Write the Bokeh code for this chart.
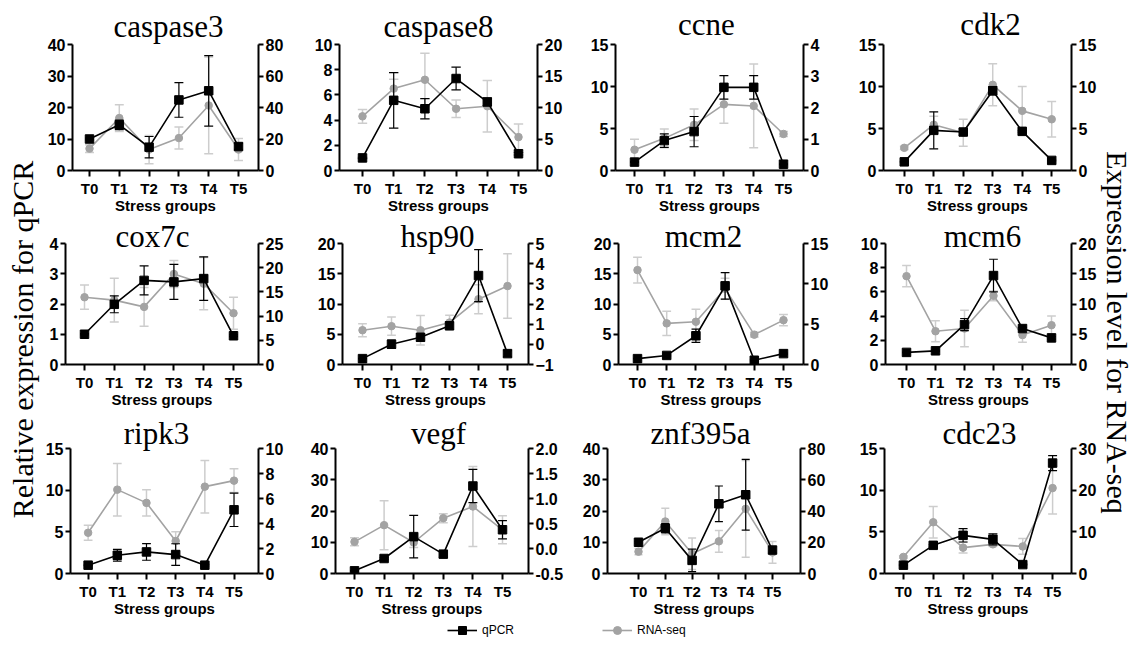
import math
from bokeh.plotting import figure
from bokeh.layouts import row, column
from bokeh.models import (Range1d, LinearAxis, FixedTicker, Title, Legend, LegendItem,
                          PrintfTickFormatter)
from bokeh.core.properties import value
from bokeh.embed import file_html
from bokeh.resources import INLINE

GROUPS = ["T0", "T1", "T2", "T3", "T4", "T5"]

CASPASE3_QPCR = [10.0, 14.5, 7.4, 22.4, 25.3, 7.6]
CASPASE3_QPCR_SD = [0.3, 1.5, 3.4, 5.5, 11.2, 1.0]
CASPASE3_RNA = [13.9, 33.3, 13.3, 20.6, 41.3, 13.3]
CASPASE3_RNA_SD = [2.5, 8.5, 9.0, 7.0, 30.7, 7.0]

CASPASE8_QPCR = [1.0, 5.57, 4.9, 7.3, 5.44, 1.33]
CASPASE8_QPCR_SD = [0.05, 2.2, 0.8, 0.9, 0.3, 0.1]
CASPASE8_RNA = [8.6, 13.0, 14.4, 9.8, 10.2, 5.3]
CASPASE8_RNA_SD = [1.1, 1.5, 4.2, 1.4, 4.1, 2.1]

CCNE_QPCR = [1.0, 3.56, 4.63, 9.9, 9.9, 0.75]
CCNE_QPCR_SD = [0.05, 0.8, 1.8, 1.4, 1.4, 0.05]
CCNE_RNA = [0.66, 1.02, 1.45, 2.1, 2.05, 1.16]
CCNE_RNA_SD = [0.33, 0.3, 0.5, 0.6, 1.33, 0.08]

CDK2_QPCR = [1.03, 4.78, 4.58, 9.5, 4.66, 1.2]
CDK2_QPCR_SD = [0.05, 2.2, 0.4, 0.5, 0.1, 0.05]
CDK2_RNA = [2.7, 5.45, 4.5, 10.2, 7.1, 6.1]
CDK2_RNA_SD = [0.2, 1.0, 1.6, 2.5, 2.9, 2.1]

COX7C_QPCR = [1.0, 1.99, 2.78, 2.73, 2.84, 0.95]
COX7C_QPCR_SD = [0.02, 0.28, 0.48, 0.58, 0.72, 0.03]
COX7C_RNA = [13.9, 13.3, 11.9, 18.7, 16.7, 10.6]
COX7C_RNA_SD = [2.5, 4.5, 4.0, 2.8, 5.4, 3.3]

HSP90_QPCR = [0.97, 3.35, 4.5, 6.4, 14.7, 1.8]
HSP90_QPCR_SD = [0.05, 0.7, 0.6, 0.6, 4.3, 0.5]
HSP90_RNA = [0.70, 0.90, 0.70, 1.08, 2.24, 2.89]
HSP90_RNA_SD = [0.32, 0.45, 0.73, 0.36, 0.72, 1.6]

MCM2_QPCR = [0.97, 1.5, 4.75, 13.0, 0.7, 1.8]
MCM2_QPCR_SD = [0.05, 0.1, 1.1, 2.2, 0.1, 0.1]
MCM2_RNA = [11.7, 5.1, 5.3, 9.4, 3.7, 5.5]
MCM2_RNA_SD = [1.6, 1.5, 1.55, 1.3, 0.3, 0.7]

MCM6_QPCR = [1.0, 1.13, 3.3, 7.35, 2.97, 2.2]
MCM6_QPCR_SD = [0.03, 0.05, 0.5, 1.35, 0.1, 0.1]
MCM6_RNA = [14.6, 5.5, 5.95, 11.35, 4.86, 6.5]
MCM6_RNA_SD = [1.75, 1.75, 3.0, 0.8, 1.2, 1.5]

RIPK3_QPCR = [1.0, 2.19, 2.59, 2.27, 1.0, 7.64]
RIPK3_QPCR_SD = [0.05, 0.7, 1.0, 1.3, 0.1, 2.0]
RIPK3_RNA = [3.26, 6.71, 5.65, 2.6, 6.95, 7.43]
RIPK3_RNA_SD = [0.6, 2.1, 1.05, 0.75, 2.1, 0.95]

VEGF_QPCR = [0.85, 4.8, 11.8, 6.2, 28.0, 14.0]
VEGF_QPCR_SD = [0.1, 0.3, 6.8, 1.0, 5.3, 2.9]
VEGF_RNA = [0.133, 0.467, 0.12, 0.607, 0.84, 0.373]
VEGF_RNA_SD = [0.08, 0.49, 0.1, 0.09, 0.8, 0.28]

ZNF395A_QPCR = [10.0, 14.5, 4.2, 22.3, 25.2, 7.5]
ZNF395A_QPCR_SD = [0.3, 1.5, 3.6, 5.7, 11.3, 1.0]
ZNF395A_RNA = [14.0, 33.3, 12.7, 20.6, 41.4, 13.5]
ZNF395A_RNA_SD = [2.0, 8.5, 10.1, 7.0, 31.0, 7.0]

CDC23_QPCR = [1.0, 3.38, 4.58, 4.1, 1.07, 13.25]
CDC23_QPCR_SD = [0.05, 0.1, 0.8, 0.66, 0.05, 0.9]
CDC23_RNA = [3.98, 12.3, 6.2, 7.0, 6.5, 20.5]
CDC23_RNA_SD = [0.3, 3.8, 1.3, 0.5, 1.9, 6.2]

# panel specs: data + axis ranges + frame placement (page pixels)
SPECS = [
    [
        dict(name="caspase3", q=CASPASE3_QPCR, qe=CASPASE3_QPCR_SD, r=CASPASE3_RNA, re=CASPASE3_RNA_SD,
             lr=(0, 40), lt=[0, 10, 20, 30, 40], rr=(0, 80), rt=[0, 20, 40, 60, 80],
             fl=72, fr=258, ft=44, fb=171, t0=89, t5=238, tx=168, so=2),
        dict(name="caspase8", q=CASPASE8_QPCR, qe=CASPASE8_QPCR_SD, r=CASPASE8_RNA, re=CASPASE8_RNA_SD,
             lr=(0, 10), lt=[0, 2, 4, 6, 8, 10], rr=(0, 20), rt=[0, 5, 10, 15, 20],
             fl=339, fr=537, ft=44, fb=170, t0=362, t5=518, tx=438, so=2),
        dict(name="ccne", q=CCNE_QPCR, qe=CCNE_QPCR_SD, r=CCNE_RNA, re=CCNE_RNA_SD,
             lr=(0, 15), lt=[0, 5, 10, 15], rr=(0, 4), rt=[0, 1, 2, 3, 4],
             fl=615, fr=803, ft=44, fb=171, t0=634, t5=783, tx=706, so=5),
        dict(name="cdk2", q=CDK2_QPCR, qe=CDK2_QPCR_SD, r=CDK2_RNA, re=CDK2_RNA_SD,
             lr=(0, 15), lt=[0, 5, 10, 15], rr=(0, 15), rt=[0, 5, 10, 15],
             fl=883, fr=1073, ft=44, fb=171, t0=904, t5=1053, tx=990, so=5),
    ],
    [
        dict(name="cox7c", q=COX7C_QPCR, qe=COX7C_QPCR_SD, r=COX7C_RNA, re=COX7C_RNA_SD,
             lr=(0, 4), lt=[0, 1, 2, 3, 4], rr=(0, 25), rt=[0, 5, 10, 15, 20, 25],
             fl=65, fr=258, ft=243, fb=367, t0=84, t5=233, tx=152, so=-21),
        dict(name="hsp90", q=HSP90_QPCR, qe=HSP90_QPCR_SD, r=HSP90_RNA, re=HSP90_RNA_SD,
             lr=(0, 20), lt=[0, 5, 10, 15, 20], rr=(-1, 5), rt=[-1, 0, 1, 2, 3, 4, 5],
             fl=342, fr=528, ft=242, fb=365, t0=362, t5=507, tx=437, so=-21),
        dict(name="mcm2", q=MCM2_QPCR, qe=MCM2_QPCR_SD, r=MCM2_RNA, re=MCM2_RNA_SD,
             lr=(0, 20), lt=[0, 5, 10, 15, 20], rr=(0, 15), rt=[0, 5, 10, 15],
             fl=618, fr=803, ft=242, fb=364, t0=637, t5=783, tx=703, so=-21),
        dict(name="mcm6", q=MCM6_QPCR, qe=MCM6_QPCR_SD, r=MCM6_RNA, re=MCM6_RNA_SD,
             lr=(0, 10), lt=[0, 2, 4, 6, 8, 10], rr=(0, 20), rt=[0, 5, 10, 15, 20],
             fl=885, fr=1071, ft=242, fb=365, t0=906, t5=1051, tx=982, so=-21),
    ],
    [
        dict(name="ripk3", q=RIPK3_QPCR, qe=RIPK3_QPCR_SD, r=RIPK3_RNA, re=RIPK3_RNA_SD,
             lr=(0, 15), lt=[0, 5, 10, 15], rr=(0, 10), rt=[0, 2, 4, 6, 8, 10],
             fl=66, fr=258, ft=448, fb=573, t0=84, t5=233, tx=152, so=-4),
        dict(name="vegf", q=VEGF_QPCR, qe=VEGF_QPCR_SD, r=VEGF_RNA, re=VEGF_RNA_SD,
             lr=(0, 40), lt=[0, 10, 20, 30, 40], rr=(-0.5, 2.0), rt=[-0.5, 0.0, 0.5, 1.0, 1.5, 2.0],
             fl=335, fr=528, ft=448, fb=573, t0=354, t5=502, tx=438, so=-4, rfmt="%.1f"),
        dict(name="znf395a", q=ZNF395A_QPCR, qe=ZNF395A_QPCR_SD, r=ZNF395A_RNA, re=ZNF395A_RNA_SD,
             lr=(0, 40), lt=[0, 10, 20, 30, 40], rr=(0, 80), rt=[0, 20, 40, 60, 80],
             fl=607, fr=800, ft=448, fb=573, t0=638, t5=772, tx=700, so=-4),
        dict(name="cdc23", q=CDC23_QPCR, qe=CDC23_QPCR_SD, r=CDC23_RNA, re=CDC23_RNA_SD,
             lr=(0, 15), lt=[0, 5, 10, 15], rr=(0, 30), rt=[0, 10, 20, 30],
             fl=884, fr=1072, ft=448, fb=573, t0=903, t5=1053, tx=979, so=-4),
    ],
]

COL_X = [42, 300, 572, 840, 1099]
ROW_Y = [0, 216, 413, 620]
PAGE_W, PAGE_H = 1142, 648

BLACK = "black"
GREY = "#a3a3a3"
GREY_ERR = "#cdcdcd"
SANS = "Liberation Sans"
SERIF = "Liberation Serif"
TITLE_SIZE = 31
# Times-compatible advance widths (per 1000 em) used to centre titles
SERIF_W = {"a": 444, "c": 444, "d": 500, "e": 444, "f": 333, "g": 500, "h": 500, "i": 278,
           "k": 500, "m": 778, "n": 500, "o": 500, "p": 500, "r": 333, "s": 389, "v": 500,
           "x": 500, "z": 444}


def text_width(t, size):
    return sum(SERIF_W.get(ch, 500) for ch in t) * size / 1000.0


def style_axis(ax, size="16px"):
    ax.axis_line_width = 2
    ax.axis_line_color = "black"
    ax.major_tick_line_width = 2
    ax.major_tick_line_color = "black"
    ax.major_tick_out = 5
    ax.major_tick_in = 0
    ax.minor_tick_line_color = None
    ax.major_label_text_font = SANS
    ax.major_label_text_font_size = size
    ax.major_label_text_font_style = "bold"
    ax.major_label_text_color = "black"
    ax.major_label_standoff = 2


def errbars(p, xs, ys, sd, color, width, rname=None):
    lo = [y - s for y, s in zip(ys, sd)]
    hi = [y + s for y, s in zip(ys, sd)]
    cap = 0.15
    kw = dict(line_color=color, line_width=width)
    if rname:
        kw["y_range_name"] = rname
    p.segment(x0=xs, y0=lo, x1=xs, y1=hi, **kw)
    p.segment(x0=[x - cap for x in xs], y0=hi, x1=[x + cap for x in xs], y1=hi, **kw)
    p.segment(x0=[x - cap for x in xs], y0=lo, x1=[x + cap for x in xs], y1=lo, **kw)


def make_panel(s, ci, ri):
    x0, x1 = COL_X[ci], COL_X[ci + 1]
    y0, y1 = ROW_Y[ri], ROW_Y[ri + 1]
    unit = (s["t5"] - s["t0"]) / 5.0
    xs_ = -(s["t0"] - s["fl"]) / unit
    xe_ = 5 + (s["fr"] - s["t5"]) / unit
    p = figure(width=x1 - x0, height=y1 - y0, title=None,
               x_range=Range1d(xs_, xe_), y_range=Range1d(*s["lr"]),
               output_backend="svg", toolbar_location=None,
               min_border_left=s["fl"] - x0, min_border_right=x1 - s["fr"],
               min_border_top=s["ft"] - y0, min_border_bottom=y1 - s["fb"])
    p.outline_line_color = None
    p.xgrid.visible = False
    p.ygrid.visible = False
    p.background_fill_color = "white"
    p.border_fill_color = "white"

    p.extra_y_ranges = {"rna": Range1d(*s["rr"])}
    rax = LinearAxis(y_range_name="rna", ticker=FixedTicker(ticks=s["rt"]))
    if s.get("rfmt"):
        rax.formatter = PrintfTickFormatter(format=s["rfmt"])
    p.add_layout(rax, "right")

    p.yaxis[0].ticker = FixedTicker(ticks=s["lt"])
    for ax in p.yaxis:
        style_axis(ax)
    style_axis(rax)
    xa = p.xaxis[0]
    style_axis(xa, "15px")
    xa.ticker = FixedTicker(ticks=list(range(len(GROUPS))))
    xa.major_label_overrides = {i: g for i, g in enumerate(GROUPS)}
    xa.major_tick_out = 6
    xa.major_label_standoff = 3
    xa.axis_label = "Stress groups"
    xa.axis_label_text_font = SANS
    xa.axis_label_text_font_size = "15px"
    xa.axis_label_text_font_style = "bold"
    xa.axis_label_text_color = "black"
    xa.axis_label_standoff = -3

    xs = list(range(len(GROUPS)))
    # RNA-seq (grey, right axis)
    errbars(p, xs, s["r"], s["re"], GREY_ERR, 1.5, "rna")
    p.line(xs, s["r"], line_color=GREY, line_width=1.6, y_range_name="rna")
    p.scatter(xs, s["r"], marker="circle", size=7.5, fill_color=GREY, line_color=GREY,
              y_range_name="rna")
    # qPCR (black, left axis)
    errbars(p, xs, s["q"], s["qe"], BLACK, 1.2)
    p.line(xs, s["q"], line_color=BLACK, line_width=1.6)
    p.scatter(xs, s["q"], marker="square", size=8.5, fill_color=BLACK, line_color=BLACK)

    off = (s["tx"] - s["fl"]) - text_width(s["name"], TITLE_SIZE) / 2.0
    t = Title(text=s["name"], align="left", offset=off, standoff=s["so"],
              text_font=SERIF, text_font_size=f"{TITLE_SIZE}px", text_font_style="normal",
              text_color="black")
    p.add_layout(t, "above")
    return p


def side_label(width, height, text, angle, xc, yc):
    p = figure(width=width, height=height, x_range=Range1d(0, width), y_range=Range1d(0, height),
               output_backend="svg", toolbar_location=None, title=None,
               x_axis_location=None, y_axis_location=None, min_border=0)
    p.outline_line_color = None
    p.xgrid.visible = False
    p.ygrid.visible = False
    p.text(x=[xc], y=[yc], text=[text], angle=angle,
           text_font=value(SERIF), text_font_size="30px", text_align="center",
           text_baseline="middle", text_color="black")
    return p


rows = []
for ri, rspecs in enumerate(SPECS):
    rows.append(row(*[make_panel(s, ci, ri) for ci, s in enumerate(rspecs)]))
grid = column(*rows)

total_h = ROW_Y[3] - ROW_Y[0]
left = side_label(COL_X[0], total_h, "Relative expression for qPCR", math.pi / 2, 22, total_h - 339)
right = side_label(PAGE_W - COL_X[4], total_h, "Expression level for RNA-seq", -math.pi / 2,
                   1117 - COL_X[4], total_h - 332)

# legend strip
LEG_H = PAGE_H - ROW_Y[3]
LEG_CY = 630
lg = figure(width=PAGE_W, height=LEG_H, x_range=Range1d(0, PAGE_W), y_range=Range1d(0, LEG_H),
            output_backend="svg", toolbar_location=None, title=None,
            x_axis_location=None, y_axis_location=None, min_border=0)
lg.outline_line_color = None
lg.xgrid.visible = False
lg.ygrid.visible = False
# legend-key renderers, kept outside the visible range
l1 = lg.line(x=[-50, -40], y=[-50, -50], line_color=BLACK, line_width=1.6)
s1 = lg.scatter(x=[-45], y=[-50], marker="square", size=8.5, fill_color=BLACK, line_color=BLACK)
l2 = lg.line(x=[-50, -40], y=[-50, -50], line_color=GREY, line_width=1.6)
s2 = lg.scatter(x=[-45], y=[-50], marker="circle", size=7.5, fill_color=GREY, line_color=GREY)
legend = Legend(items=[LegendItem(label="qPCR", renderers=[l1, s1]),
                       LegendItem(label="RNA-seq", renderers=[l2, s2])],
                orientation="horizontal", location=(447, (PAGE_H - LEG_CY) - 10), glyph_width=30,
                glyph_height=20, label_text_font=SANS, label_text_font_size="12px",
                label_text_color="black", label_standoff=5, spacing=88, padding=0, margin=0,
                border_line_color=None, background_fill_alpha=0)
lg.add_layout(legend)

layout = column(row(left, grid, right), lg)

open("out.html", "w").write(file_html(layout, INLINE))
